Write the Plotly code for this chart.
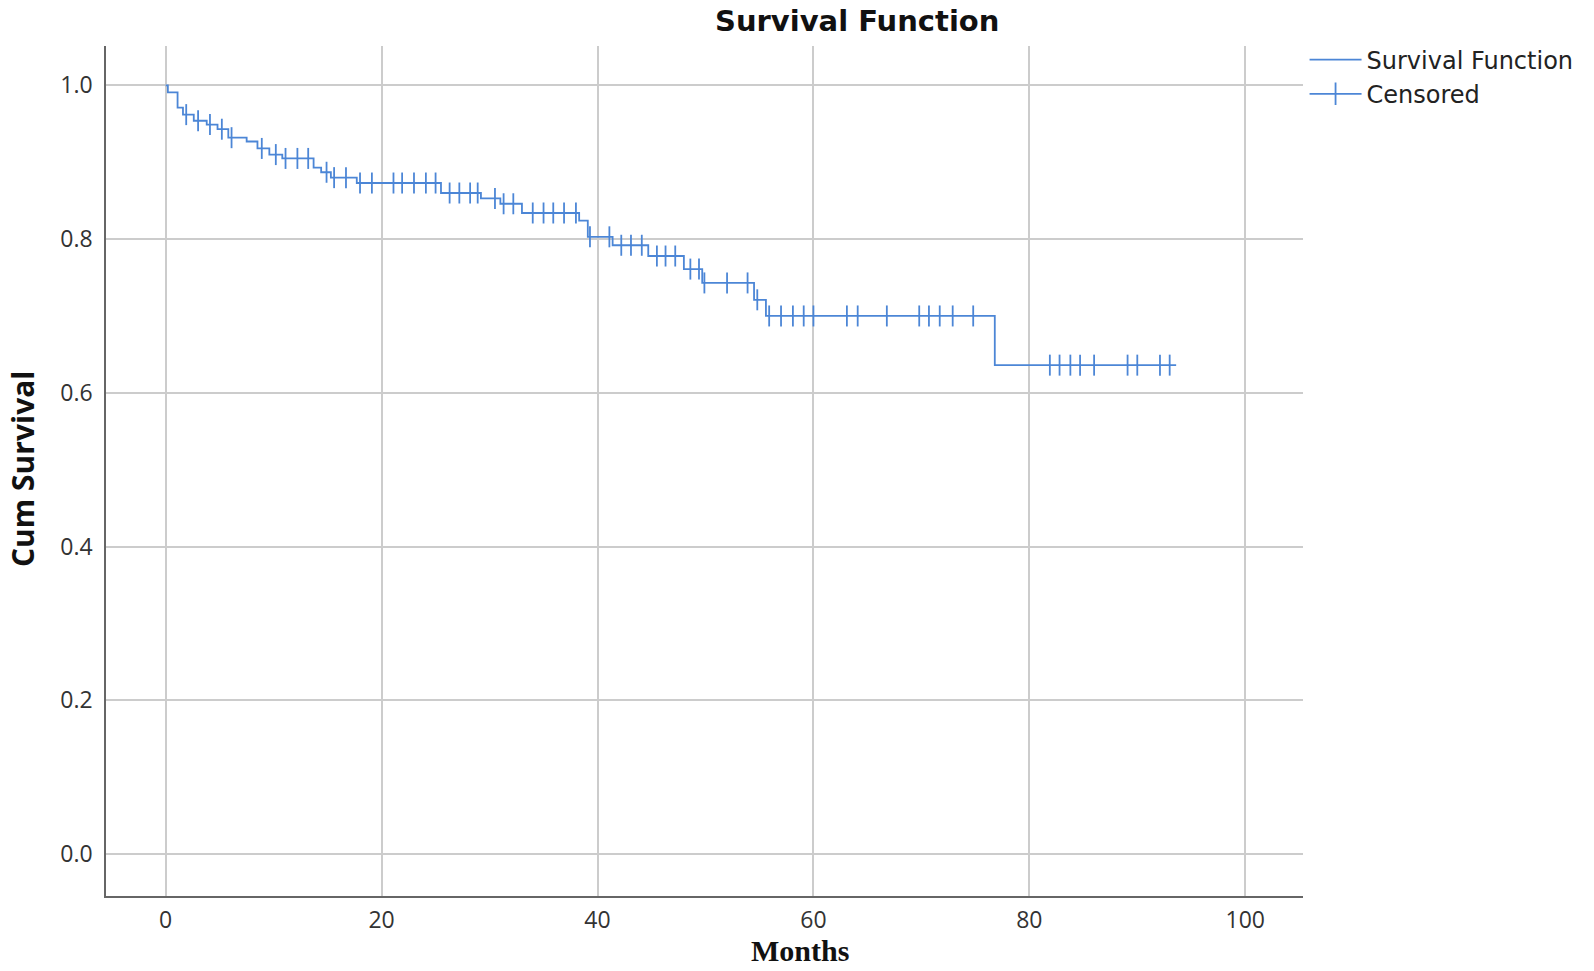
import numpy as np
import plotly.graph_objects as go

# Kaplan-Meier step data
event_times = [0.2, 1.1, 1.6, 2.6, 3.8, 4.8, 5.8, 7.5, 8.5, 9.6, 10.8, 13.7, 14.4, 15.3,
               17.7, 25.5, 29.2, 31.0, 33.0, 38.3, 39.1, 41.4, 44.7, 48.0, 49.7, 54.5,
               55.6, 76.8]
survival = [0.991, 0.971, 0.962, 0.954, 0.949, 0.943, 0.932, 0.927, 0.918, 0.910, 0.905,
            0.893, 0.887, 0.880, 0.873, 0.860, 0.853, 0.846, 0.834, 0.824, 0.803, 0.792,
            0.778, 0.761, 0.743, 0.721, 0.700, 0.636]
last_followup = 93.6
censored_times = [1.9, 3.0, 4.1, 5.2, 6.1, 8.9, 10.2, 11.1, 12.2, 13.2, 14.9, 15.6, 16.7,
                  18.0, 19.1, 21.1, 21.9, 23.0, 24.1, 25.0, 26.3, 27.2, 28.2, 28.9, 30.5,
                  31.3, 32.2, 34.0, 35.0, 35.9, 36.9, 38.0, 39.3, 41.1, 42.2, 43.1, 44.1,
                  45.5, 46.3, 47.2, 48.6, 49.4, 49.9, 52.0, 53.9, 54.8, 55.9, 57.0, 58.1,
                  59.1, 60.0, 63.1, 64.1, 66.8, 69.8, 70.7, 71.7, 72.9, 74.8, 81.9, 82.8,
                  83.8, 84.7, 86.0, 89.1, 90.0, 92.1, 93.0]
x_ticks = [0, 20, 40, 60, 80, 100]
y_ticks = [0.0, 0.2, 0.4, 0.6, 0.8, 1.0]

BLUE = "#4c86d6"

step_x = [0.0] + event_times + [last_followup]
step_y = [1.0] + survival + [survival[-1]]

ev = np.array(event_times)
sv = np.array([1.0] + survival)
cens_y = [float(sv[np.searchsorted(ev, t, side="right")]) for t in censored_times]

fig = go.Figure()
fig.add_trace(go.Scatter(x=step_x, y=step_y, mode="lines", line_shape="hv",
                         line=dict(color=BLUE, width=1.8), name="Survival Function",
                         hoverinfo="skip"))
fig.add_trace(go.Scatter(x=censored_times, y=cens_y, mode="markers",
                         marker=dict(symbol="line-ns", size=15,
                                     line=dict(color=BLUE, width=1.8)),
                         showlegend=False, hoverinfo="skip"))
fig.add_trace(go.Scatter(x=[None], y=[None], mode="lines+markers", name="Censored",
                         line=dict(color=BLUE, width=1.8),
                         marker=dict(symbol="line-ns", size=18,
                                     line=dict(color=BLUE, width=1.8))))

fig.update_layout(
    width=1594, height=971,
    margin=dict(l=106, r=291, t=46, b=75),
    paper_bgcolor="white", plot_bgcolor="white",
    font=dict(family="Open Sans", color="#333333"),
    showlegend=True,
    legend=dict(x=1.0013, xanchor="left", y=1.01, yanchor="top",
                font=dict(size=24, color="#222222", family="DejaVu Sans"),
                bgcolor="rgba(0,0,0,0)", tracegroupgap=0, itemwidth=52),
    annotations=[
        dict(text="<b>Survival Function</b>", x=(857 - 106) / 1197, y=1 + (46 - 21) / 850,
             xref="paper", yref="paper", xanchor="center", yanchor="middle",
             showarrow=False, font=dict(size=29, family="DejaVu Sans", color="#111111")),
        dict(text="<b>Months</b>", x=(800 - 106) / 1197, y=0, xref="paper", yref="paper",
             xanchor="center", yanchor="middle", yshift=-(950 - 896), showarrow=False,
             font=dict(size=30, family="Liberation Serif", color="#111111")),
        dict(text="<b>Cum Survival</b>", x=0, y=(896 - 469) / 850, xref="paper", yref="paper",
             xanchor="center", yanchor="middle", xshift=-(106 - 22), textangle=-90,
             showarrow=False, font=dict(size=30, family="Open Sans", color="#111111")),
    ],
)
fig.update_xaxes(range=[-5.53, 105.35], tickvals=x_ticks, ticktext=[str(v) for v in x_ticks],
                 showgrid=True, gridcolor="#cccccc", gridwidth=2, zeroline=False,
                 showline=True, linecolor="#666666", linewidth=1.5, ticks="",
                 tickfont=dict(size=23, color="#333333"), ticklabelstandoff=3)
fig.update_yaxes(range=[-0.0548, 1.0513], tickvals=y_ticks,
                 ticktext=[f"{v:.1f}" for v in y_ticks],
                 showgrid=True, gridcolor="#cccccc", gridwidth=2, zeroline=False,
                 showline=True, linecolor="#666666", linewidth=1.5, ticks="",
                 tickfont=dict(size=23, color="#333333"), ticklabelstandoff=7)

fig.write_html("out.html", config={"displayModeBar": False},
               post_script="document.body.style.margin='0px';")
